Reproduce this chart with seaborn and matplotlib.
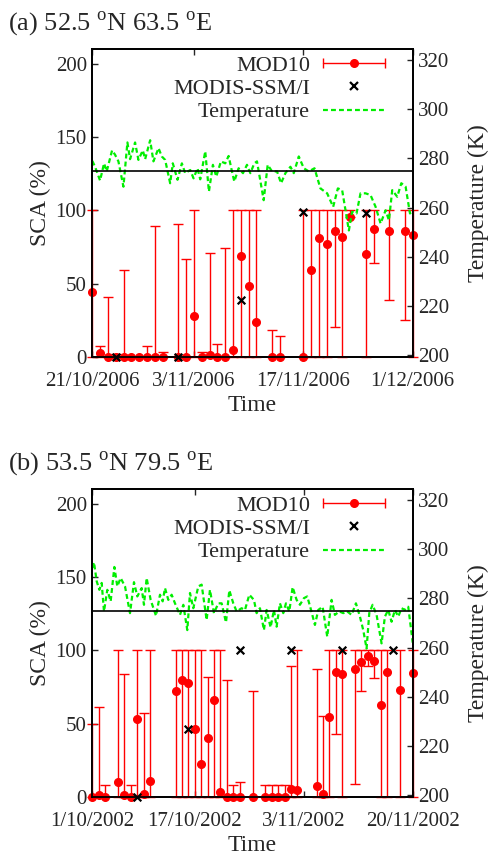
import numpy as np
import pandas as pd
import matplotlib
matplotlib.use("Agg")
import matplotlib.pyplot as plt
from matplotlib.lines import Line2D
from matplotlib.legend_handler import HandlerLine2D
import seaborn as sns

# ---------------------------------------------------------------
# Panel (a): 52.5N 63.5E, from 21/10/2006
# ---------------------------------------------------------------
A_START = "2006-10-21"
A_END = "2006-12-01"
A_TICKS = ["2006-10-21", "2006-11-03", "2006-11-17", "2006-12-01"]
A_TICK_LABELS = ["21/10/2006", "3/11/2006", "17/11/2006", "1/12/2006"]

a_mod_day = [0, 1, 2, 3, 4, 5, 6, 7, 8, 9, 11, 12, 13, 14, 15, 16, 17, 18, 19, 20,
             21, 23, 24, 27, 28, 29, 30, 31, 32, 33, 35, 36, 38, 40, 41]
a_mod_val = [44, 2.3, 0, 0, 0, 0, 0, 0, 0, 0, 0, 0, 28, 0, 1, 0, 0, 4.5, 69, 48,
             24, 0, 0, 0, 59, 81, 77, 86, 82, 95.5, 70, 87.5, 86, 86, 83]
a_mod_lo = [0, 0, 0, 0, 0, 0, 0, 0, 0, 0, 0, 0, 0, 0, 0, 0, 0, 0, 0, 0,
            0, 0, 0, 0, 0, 0, 0, 20, 0, 95.5, 0, 64, 39, 25, 0]
a_mod_hi = [100, 7, 41, 2, 59, 0, 0, 7, 89, 3, 91, 67, 100, 3, 71, 9, 74, 100, 100, 100,
            100, 18, 14, 100, 100, 100, 100, 100, 100, 100, 100, 100, 100, 100, 100]

a_ssm_day = [3, 11, 19, 27, 35]
a_ssm_val = [0, 0, 39, 99, 98]

a_t_day = [0.0, 0.35, 0.99, 1.50, 1.84, 2.53, 2.91, 3.34, 3.98, 4.49, 4.83, 5.47, 5.90,
           6.46, 6.76, 7.40, 7.82, 8.47, 8.89, 9.32, 9.96, 10.30, 10.90, 11.46, 11.88,
           12.53, 12.95, 13.46, 13.81, 14.45, 14.92, 15.43, 15.86, 16.46, 17.01, 17.44,
           17.87, 18.17, 18.72, 19.28, 19.79, 20.22, 20.73, 21.07, 21.93, 22.44, 23.00,
           23.64, 24.15, 24.71, 25.35, 25.78, 26.42, 27.06, 27.70, 28.43, 29.19, 30.05,
           30.82, 31.42, 31.97, 32.40, 32.83, 33.25, 33.81, 34.32, 34.96, 35.60, 36.25,
           36.89, 37.53, 37.96, 38.38, 39.02, 39.54, 40.09, 40.65, 41.0]
a_t_val = [279.0, 276.6, 271.0, 278.0, 274.7, 283.3, 281.5, 278.8, 268.5, 286.5, 279.7,
           286.5, 279.4, 283.3, 279.7, 287.4, 278.8, 284.2, 280.8, 279.4, 269.9, 278.0,
           271.3, 278.0, 274.0, 275.3, 271.9, 276.0, 271.5, 282.9, 266.5, 277.4, 272.6,
           278.8, 278.0, 281.0, 274.7, 270.6, 276.0, 274.0, 277.4, 274.0, 278.0, 278.8,
           263.0, 277.4, 274.7, 274.7, 269.9, 274.0, 276.6, 274.0, 280.8, 276.0, 274.7,
           276.0, 267.8, 265.8, 260.3, 267.8, 267.1, 258.9, 250.7, 258.3, 257.6, 265.8,
           265.8, 265.1, 260.3, 253.5, 258.9, 254.8, 267.1, 264.4, 269.9, 268.5, 257.6,
           258.9]

# ---------------------------------------------------------------
# Panel (b): 53.5N 79.5E, from 1/10/2002
# ---------------------------------------------------------------
B_START = "2002-10-01"
B_END = "2002-11-20"
B_TICKS = ["2002-10-01", "2002-10-17", "2002-11-03", "2002-11-20"]
B_TICK_LABELS = ["1/10/2002", "17/10/2002", "3/11/2002", "20/11/2002"]

b_mod_day = [0, 1, 2, 4, 5, 6, 7, 8, 9, 13, 14, 15, 16, 17, 18, 19, 20, 21, 22, 23,
             25, 27, 28, 29, 30, 31, 32, 35, 36, 37, 38, 39, 41, 42, 43, 44, 45, 46, 48, 50]
b_mod_val = [0, 1.4, 0, 10, 1, 0, 53, 2, 11, 72, 79.5, 78, 46, 22, 40, 66, 3, 0, 0, 0,
             0, 0, 0, 0, 0, 5, 4.5, 7, 2, 54.5, 85, 84, 87, 92, 96, 93, 62.5, 85, 73, 84.5]
b_mod_lo = [0, 0, 0, 0, 0, 0, 0, 0, 0, 0, 0, 0, 0, 0, 0, 0, 0, 0, 0, 0,
            0, 0, 0, 0, 0, 0, 0, 0, 0, 0, 43, 0, 9, 72, 89, 81, 0, 0, 0, 0]
b_mod_hi = [50, 61, 8, 100, 84, 8, 100, 57, 100, 100, 100, 100, 100, 100, 82, 100, 100, 80, 8, 10,
            72, 8, 8, 8, 8, 89, 100, 87, 55, 100, 100, 100, 100, 100, 100, 100, 100, 100, 100, 100]

b_ssm_day = [7, 15, 23, 31, 39, 47]
b_ssm_val = [0, 46, 100, 100, 100, 100]

b_t_day = [0.0, 0.26, 0.68, 1.10, 1.46, 1.82, 2.34, 2.86, 3.44, 3.90, 4.42, 5.10, 5.88,
           6.50, 7.02, 7.70, 8.06, 8.48, 9.10, 9.94, 10.56, 10.98, 11.34, 11.86, 12.38,
           12.90, 13.68, 14.20, 14.82, 15.24, 15.76, 16.54, 17.06, 17.84, 18.36, 18.98,
           19.66, 20.18, 20.86, 21.38, 22.00, 22.52, 23.30, 23.82, 24.50, 25.22, 25.64,
           26.16, 26.78, 27.20, 27.82, 28.34, 28.76, 29.28, 29.80, 30.22, 30.74, 31.26,
           31.88, 32.40, 33.02, 33.54, 34.06, 34.74, 35.26, 35.94, 36.66, 37.34, 37.86,
           38.54, 39.16, 39.78, 40.46, 41.14, 41.76, 42.28, 42.80, 43.22, 43.74, 44.36,
           45.14, 45.66, 46.18, 46.70, 47.22, 47.74, 48.26, 48.78, 49.30, 49.82, 50.0]
b_t_val = [292.5, 294.7, 287.0, 283.5, 286.3, 274.7, 283.5, 278.8, 292.8, 284.9, 288.3,
           284.9, 274.0, 286.6, 280.8, 284.2, 277.4, 288.3, 279.4, 272.9, 281.5, 278.8,
           284.2, 279.4, 281.5, 278.0, 273.3, 277.4, 267.1, 282.2, 276.0, 284.9, 285.6,
           271.2, 283.5, 274.0, 278.0, 278.0, 270.2, 283.3, 278.0, 274.7, 276.0, 275.3,
           281.5, 279.4, 274.0, 276.0, 267.1, 275.3, 268.2, 275.3, 268.5, 278.0, 274.0,
           278.0, 274.7, 284.6, 279.4, 277.4, 280.1, 280.8, 276.0, 269.2, 275.3, 276.6,
           264.4, 279.4, 273.3, 274.7, 274.0, 274.7, 273.3, 278.0, 272.6, 267.1, 259.6,
           274.0, 277.4, 273.3, 261.7, 272.6, 275.3, 270.5, 275.3, 272.6, 276.0, 275.3,
           276.6, 265.8, 262.0]

FREEZE_K = 275

# estilo
sns.set_theme(style="ticks")
plt.rcParams["font.family"] = ["Liberation Serif", "DejaVu Serif"]
plt.rcParams["mathtext.fontset"] = "custom"
plt.rcParams["mathtext.rm"] = "Liberation Serif"
plt.rcParams["font.size"] = 15
plt.rcParams["xtick.labelsize"] = 15
plt.rcParams["ytick.labelsize"] = 15
plt.rcParams["axes.labelsize"] = 17

RED = "#ff0000"
GREEN = "#00ee00"
LEG_FS = 16


def draw_panel(ax, start, end, ticks, tick_labels,
               mod_day, mod_val, mod_lo, mod_hi, ssm_day, ssm_val, t_day, t_val):
    t0 = pd.Timestamp(start)
    mod_x = t0 + pd.to_timedelta(mod_day, unit="D")
    ssm_x = t0 + pd.to_timedelta(ssm_day, unit="D")
    t_x = t0 + pd.to_timedelta(t_day, unit="D")

    val = np.array(mod_val, dtype=float)
    yerr = [val - np.array(mod_lo), np.array(mod_hi) - val]
    eb = ax.errorbar(mod_x, val, yerr=yerr, fmt="o", color=RED, ms=5.5, lw=1.0,
                     elinewidth=1.0, capsize=3.5, capthick=1.0, zorder=3)
    for art in eb.get_children():
        art.set_clip_on(False)

    sc = sns.scatterplot(x=ssm_x, y=ssm_val, marker="x", color="black", s=30,
                         linewidth=1.6, ax=ax, zorder=4)
    for coll in sc.collections:
        coll.set_clip_on(False)

    ax.set_ylim(0, 210)
    ax.set_yticks([0, 50, 100, 150, 200])
    ax.set_xlim(pd.Timestamp(start), pd.Timestamp(end))
    ax.set_xticks([pd.Timestamp(t) for t in ticks])
    ax.set_xticklabels(tick_labels)
    ax.tick_params(axis="both", direction="in", length=4, width=1.0, top=True,
                   right=True, labelright=False, pad=4)
    ax.tick_params(axis="x", pad=11)
    ax.set_xlabel("Time", labelpad=3)
    ax.set_ylabel("SCA (%)", labelpad=3)

    ax2 = ax.twinx()
    sns.lineplot(x=t_x, y=t_val, ax=ax2, color=GREEN, lw=1.6,
                 linestyle=(0, (2.2, 1.4)), estimator=None)
    ax2.axhline(FREEZE_K, color="black", lw=1.2)
    ax2.set_ylim(199.3, 324.4)
    ax2.set_yticks([200, 220, 240, 260, 280, 300, 320])
    ax2.tick_params(axis="y", direction="in", length=4, width=1.0, pad=4)
    ax2.set_ylabel("Temperature (K)", labelpad=13)
    ax2.set_xlim(pd.Timestamp(start), pd.Timestamp(end))

    for a in (ax, ax2):
        for sp in a.spines.values():
            sp.set_linewidth(1.3)
            sp.set_color("black")

    # legenda
    h_bar = Line2D([], [], color=RED, lw=1.0, marker="|", ms=7, mew=1.0)
    h_dot = Line2D([], [], color=RED, marker="o", ms=5.5, ls="none")
    h_ssm = Line2D([], [], color="black", marker="x", ms=5.5, mew=1.6, ls="none")
    h_t = Line2D([], [], color=GREEN, lw=1.6, linestyle=(0, (2.2, 1.4)))
    ax2.legend([(h_bar, h_dot), h_ssm, h_t], ["MOD10", "MODIS-SSM/I", "Temperature"],
               handler_map={h_bar: HandlerLine2D(numpoints=2, marker_pad=0)},
               loc="upper right", bbox_to_anchor=(0.915, 0.98), frameon=False,
               markerfirst=False, handlelength=2.8, handletextpad=0.6,
               labelspacing=0.12, borderpad=0, borderaxespad=0, fontsize=LEG_FS)
    return ax2


fig = plt.figure(figsize=(4.89, 8.55), dpi=100)
ax_a = fig.add_axes([0.1888, 0.5828, 0.6552, 0.3595])
ax_b = fig.add_axes([0.1888, 0.0682, 0.6552, 0.3595])

draw_panel(ax_a, A_START, A_END, A_TICKS, A_TICK_LABELS,
           a_mod_day, a_mod_val, a_mod_lo, a_mod_hi, a_ssm_day, a_ssm_val,
           a_t_day, a_t_val)
draw_panel(ax_b, B_START, B_END, B_TICKS, B_TICK_LABELS,
           b_mod_day, b_mod_val, b_mod_lo, b_mod_hi, b_ssm_day, b_ssm_val,
           b_t_day, b_t_val)

fig.text(0.016, 0.972, r"(a) 52.5 $^{\rm o}$N 63.5 $^{\rm o}$E", fontsize=19, va="center")
fig.text(0.016, 0.458, r"(b) 53.5 $^{\rm o}$N 79.5 $^{\rm o}$E", fontsize=19, va="center")

fig.savefig("out.png", dpi=100)
